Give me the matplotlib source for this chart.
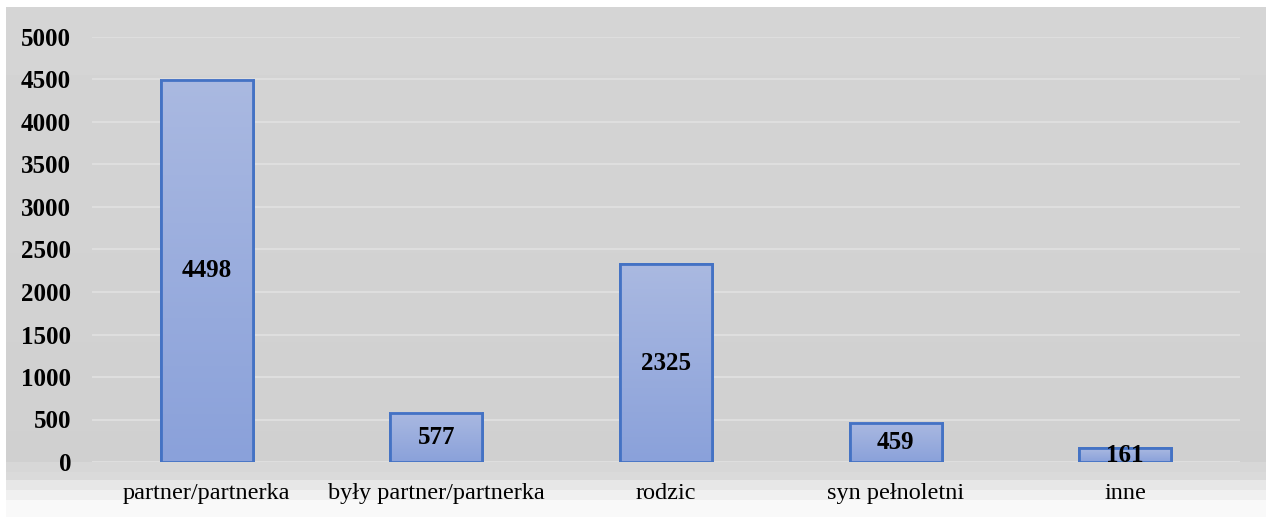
import matplotlib.pyplot as plt
import numpy as np

categories = ['partner/partnerka', 'były partner/partnerka', 'rodzic', 'syn pełnoletni', 'inne']
values = [4498, 577, 2325, 459, 161]
yticks = [0, 500, 1000, 1500, 2000, 2500, 3000, 3500, 4000, 4500, 5000]

plt.rcParams['font.family'] = ['Liberation Serif', 'DejaVu Serif']

W, H = 1266, 517
fig = plt.figure(figsize=(W / 100, H / 100), dpi=100)

# background: gray panel with light bands at the bottom
bg = fig.add_axes([6 / W, 0, 1 - 6 / W, 1 - 7 / H])
rows = np.zeros((H - 7, 1))
for i in range(H - 7):
    y = i + 7
    if y < 462:
        rows[i] = 0.835 - 0.02 * (y - 7) / 455
    elif y < 472:
        rows[i] = 0.84
    elif y < 480:
        rows[i] = 0.855
    elif y < 490:
        rows[i] = 0.905
    elif y < 500:
        rows[i] = 0.94
    else:
        rows[i] = 0.975
bg.imshow(np.repeat(rows, 10, axis=1), cmap='gray', vmin=0, vmax=1, aspect='auto',
          interpolation='nearest')
bg.set_axis_off()

ax = fig.add_axes([92 / W, (H - 462) / H, (1240 - 92) / W, (462 - 37) / H])
ax.set_facecolor('none')
x = np.arange(len(categories))
bars = ax.bar(x, values, width=0.4, color='#9aaddd', edgecolor='#4472c4', linewidth=2, zorder=3)

# vertical gradient inside each bar
grad = np.linspace(0, 1, 256).reshape(-1, 1)
top = np.array([0xaa, 0xb9, 0xe1]) / 255
bot = np.array([0x8a, 0xa1, 0xda]) / 255
img = top + (bot - top) * grad[..., None]
for b in bars:
    ax.imshow(img, extent=(b.get_x(), b.get_x() + b.get_width(), 0, b.get_height()),
              aspect='auto', zorder=3.5, origin='upper')
    r = plt.Rectangle((b.get_x(), 0), b.get_width(), b.get_height(), fill=False,
                      edgecolor='#4472c4', linewidth=2, zorder=4)
    ax.add_patch(r)

ax.set_xlim(-0.5, len(categories) - 0.5)
ax.set_ylim(0, 5000)
ax.set_yticks(yticks)
ax.set_yticklabels([str(t) for t in yticks], fontsize=18, fontweight='bold')
ax.set_xticks(x)
ax.set_xticklabels(categories, fontsize=17.5)
ax.tick_params(axis='y', length=0, pad=15)
ax.tick_params(axis='x', length=0, pad=15)
ax.grid(axis='y', color='#dedede', linewidth=1.5, zorder=1)
for s in ax.spines.values():
    s.set_visible(False)

for xi, v in zip(x, values):
    ax.text(xi, v / 2, str(v), ha='center', va='center', fontsize=18,
            fontweight='bold', zorder=5)

fig.savefig('out.png', dpi=100)
